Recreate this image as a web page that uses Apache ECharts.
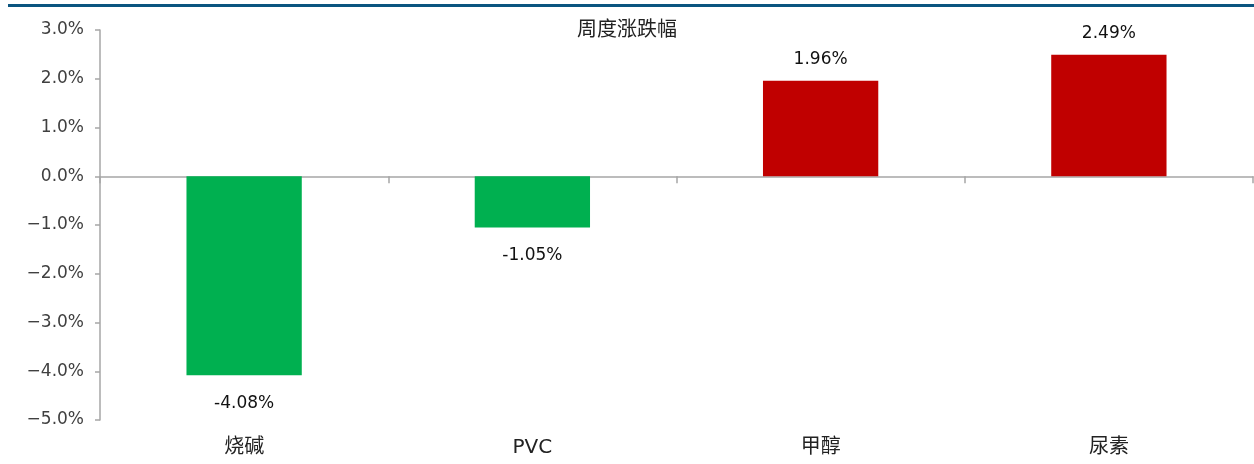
<!DOCTYPE html>
<html><head><meta charset="utf-8">
<script src="https://cdn.jsdelivr.net/npm/echarts@6/dist/echarts.min.js"></script>
<style>html,body{margin:0;padding:0;background:#fff}#c{width:1254px;height:464px}</style>
</head><body><div id="c"></div>
<script>
const categories = ['烧碱', 'PVC', '甲醇', '尿素'];
const values = [-4.08, -1.05, 1.96, 2.49];
const yTicks = [-5, -4, -3, -2, -1, 0, 1, 2, 3];
const title = '周度涨跌幅';

const chart = echarts.init(document.getElementById('c'));
chart.setOption({
  animation: false,
  graphic: [{type: 'rect', shape: {x: 8, y: 4, width: 1246, height: 3}, style: {fill: '#0b5580'}}],
  title: {text: title, left: 'center', top: 13, textStyle: {fontFamily: 'Noto Sans CJK SC', fontWeight: 'normal', fontSize: 20, color: '#222'}},
  grid: {left: 100, right: 1, top: 30, bottom: 44, containLabel: false, outerBoundsMode: 'none'},
  xAxis: [{
    type: 'category', data: categories,
    axisLine: {onZero: true, lineStyle: {color: '#a6a6a6', width: 1.5}},
    axisTick: {show: true, inside: false, length: 7, lineStyle: {color: '#a6a6a6', width: 1.5}},
    axisLabel: {show: false},
    splitLine: {show: false}
  }, {
    type: 'category', data: categories, position: 'bottom',
    axisLine: {show: false, onZero: false}, axisTick: {show: false},
    axisLabel: {margin: 18, fontFamily: 'DejaVu Sans, Noto Sans CJK SC', fontSize: 20, color: '#222'},
    splitLine: {show: false}
  }],
  yAxis: {
    type: 'value', min: yTicks[0], max: yTicks[yTicks.length - 1], interval: 1,
    axisLine: {show: true, lineStyle: {color: '#a6a6a6', width: 1.5}},
    axisTick: {show: true, length: 5, lineStyle: {color: '#a6a6a6', width: 1.5}},
    splitLine: {show: false},
    axisLabel: {margin: 16, fontFamily: 'DejaVu Sans', fontSize: 17, color: '#404040',
      formatter: v => (v < 0 ? '\u2212' + Math.abs(v).toFixed(1) : v.toFixed(1)) + '%'}
  },
  series: [{
    type: 'bar', barWidth: '40%', xAxisIndex: 0,
    data: values.map(v => ({
      value: v,
      itemStyle: {color: v < 0 ? '#00b050' : '#c00000'},
      label: {show: true, position: v < 0 ? 'bottom' : 'top', distance: v < 0 ? 20 : 13,
        fontFamily: 'DejaVu Sans', fontSize: 17, color: '#111',
        formatter: p => p.value.toFixed(2) + '%'}
    }))
  }]
});
</script></body></html>
